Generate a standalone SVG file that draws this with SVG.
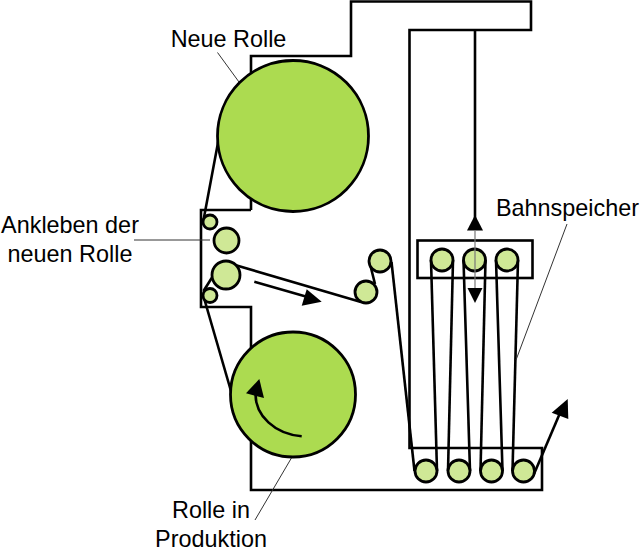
<svg xmlns="http://www.w3.org/2000/svg" width="640" height="554" viewBox="0 0 640 554">
  <style>
    .frame { fill: none; stroke: #000; stroke-width: 2.600; stroke-linejoin: miter; }
    .web { fill: none; stroke: #000; stroke-width: 2.600; }
    .lead { fill: none; stroke: #333; stroke-width: 1; }
    .reel { fill: #acdb50; stroke: #000; stroke-width: 2.800; }
    .roller { fill: #cfe896; stroke: #000; stroke-width: 2.800; }
    .head { fill: #000; stroke: none; }
    text { font-family: "Liberation Sans", Arial, sans-serif; font-size: 23.400px; fill: #000; text-anchor: middle; }
  </style>
  <rect width="640" height="554" fill="#fff"/>

  <!-- machine housing -->
  <g id="housing">
    <path class="frame" d="M251 210V56H351V1.500H531V30H409.500V448H542V490H251V307H201V210H251"/>
    <rect class="frame" x="417.500" y="240.500" width="115" height="37.500"/>
  </g>

  <!-- paper web, arrows and leader lines -->
  <g id="connectors">
    <path class="web" d="M218.500 140L203.500 220"/>
    <path class="web" d="M233 398L204 298"/>
    <path class="web" d="M203.500 291L213 276"/>
    <path class="web" d="M235 265L361 302"/>
    <path class="web" d="M370 264L375 284"/>
    <path class="web" d="M391.500 262L414.500 471"/>
    <path class="web" d="M431 260L437 471"/>
    <path class="web" d="M453 260L448 471"/>
    <path class="web" d="M463.500 260L470 471"/>
    <path class="web" d="M485.500 260L480.500 471"/>
    <path class="web" d="M496 260L502.500 471"/>
    <path class="web" d="M518 260L512.500 471"/>
    <path class="web" d="M534 474L560 413"/>
    <path class="head" d="M567.700 399L551.700 412.700L568.300 419Z"/>
    <path class="web" d="M254.300 281.700L311 298"/>
    <path class="head" d="M321.700 301.700L306.700 289.300L301.700 305.700Z"/>
    <path class="web" d="M475 30V230"/>
    <path class="head" d="M475 215L467 230.500H483Z"/>
    <path class="head" d="M475 303L467.500 288H482.500Z"/>
    <path class="lead" d="M217.500 52.500L239 82"/>
    <path class="lead" d="M134 240H210"/>
    <path class="lead" d="M567 224L516 360"/>
    <path class="lead" d="M292 457L255 520"/>
  </g>

  <!-- supply reel, production reel and rollers -->
  <g id="reel-new"><circle class="reel" cx="293" cy="136" r="75.500"/></g>
  <g id="reel-production"><circle class="reel" cx="293" cy="394.500" r="62.500"/></g>
  <g id="roller-splice-a"><circle class="roller" cx="210" cy="222" r="7"/></g>
  <g id="roller-splice-b"><circle class="roller" cx="226.500" cy="240.500" r="12.500"/></g>
  <g id="roller-splice-c"><circle class="roller" cx="226" cy="275" r="14"/></g>
  <g id="roller-splice-d"><circle class="roller" cx="210" cy="295.500" r="7"/></g>
  <g id="roller-guide-a"><circle class="roller" cx="366" cy="292" r="11"/></g>
  <g id="roller-guide-b"><circle class="roller" cx="380" cy="261" r="11"/></g>
  <g id="roller-top-a"><circle class="roller" cx="442" cy="260" r="11"/></g>
  <g id="roller-top-b"><circle class="roller" cx="474.500" cy="260" r="11"/></g>
  <g id="roller-top-c"><circle class="roller" cx="507" cy="260" r="11"/></g>
  <g id="roller-bottom-a"><circle class="roller" cx="426" cy="471" r="11"/></g>
  <g id="roller-bottom-b"><circle class="roller" cx="459" cy="471" r="11"/></g>
  <g id="roller-bottom-c"><circle class="roller" cx="491.500" cy="471" r="11"/></g>
  <g id="roller-bottom-d"><circle class="roller" cx="523.500" cy="471" r="11"/></g>

  <!-- carriage rod passing over the middle roller, and reel rotation -->
  <g id="overlays">
    <path d="M475 231V288" fill="none" stroke="#777" stroke-width="1.200"/>
    <path class="web" d="M301.700 436.300C275 434 255 416 255.500 393"/>
    <path class="head" d="M259.300 379L246 393.300L264 398Z"/>
  </g>

  <g id="labels">
    <text x="228.500" y="47">Neue Rolle</text>
    <text x="70" y="233.300">Ankleben der</text>
    <text x="70" y="261.500">neuen Rolle</text>
    <text x="567.500" y="216">Bahnspeicher</text>
    <text x="211" y="517.500">Rolle in</text>
    <text x="211" y="547">Produktion</text>
  </g>
</svg>
